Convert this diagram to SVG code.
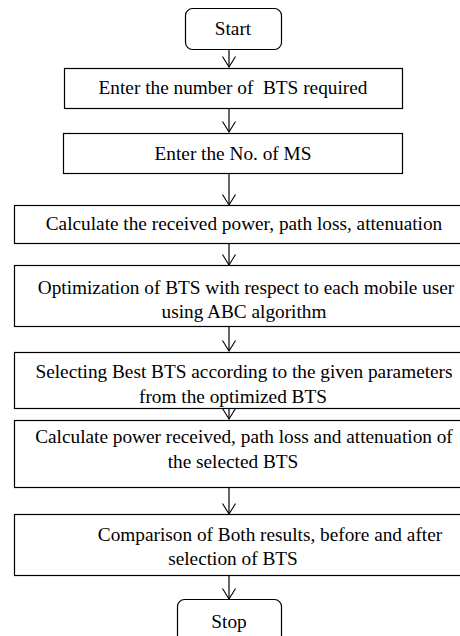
<svg xmlns="http://www.w3.org/2000/svg" width="460" height="636" viewBox="0 0 460 636">
<defs>
<marker id="arr" markerWidth="12" markerHeight="14" refX="11" refY="7" orient="auto" markerUnits="userSpaceOnUse" viewBox="0 0 12 14">
<path d="M0.5,0.5 L11,7 L0.5,13.5" fill="none" stroke="#000" stroke-width="1.1"/>
</marker>
<style>
.b{fill:#fff;stroke:#000;stroke-width:1.2}
.c{stroke:#000;stroke-width:1.2;fill:none}
</style>
</defs>
<rect width="460" height="636" fill="#fff"/>
<g id="connectors">
<line class="c" x1="229" y1="49" x2="229" y2="67" marker-end="url(#arr)"/>
<line class="c" x1="229" y1="108" x2="229" y2="132" marker-end="url(#arr)"/>
<line class="c" x1="229" y1="173" x2="229" y2="205" marker-end="url(#arr)"/>
<line class="c" x1="229" y1="243" x2="229" y2="265" marker-end="url(#arr)"/>
<line class="c" x1="229" y1="326" x2="229" y2="351" marker-end="url(#arr)"/>
<line class="c" x1="229" y1="408" x2="229" y2="419" marker-end="url(#arr)"/>
<line class="c" x1="229" y1="487" x2="229" y2="514" marker-end="url(#arr)"/>
<line class="c" x1="229" y1="575" x2="229" y2="599" marker-end="url(#arr)"/>
</g>
<g font-family="Liberation Serif, Times New Roman, serif" font-size="19.3" fill="#000" text-anchor="middle">
<g id="start">
<rect class="b" x="185.5" y="8.5" width="96" height="41" rx="7"/>
<text x="233" y="35">Start</text>
</g>
<g id="bts">
<rect class="b" x="64.5" y="68.5" width="338" height="40"/>
<text x="233" y="94" xml:space="preserve">Enter the number of  BTS required</text>
</g>
<g id="ms">
<rect class="b" x="63.5" y="133.5" width="339" height="40"/>
<text x="233" y="160">Enter the No. of MS</text>
</g>
<g id="calc1">
<rect class="b" x="14.5" y="205.5" width="460" height="38"/>
<text x="244" y="230">Calculate the received power, path loss, attenuation</text>
</g>
<g id="opt">
<rect class="b" x="14.5" y="265.5" width="460" height="61"/>
<text x="246" y="294">Optimization of BTS with respect to each mobile user</text>
<text x="244" y="318">using ABC algorithm</text>
</g>
<g id="select">
<rect class="b" x="14.5" y="352.5" width="460" height="56"/>
<text x="244" y="378">Selecting Best BTS according to the given parameters</text>
<text x="233" y="403">from the optimized BTS</text>
</g>
<g id="calc2">
<rect class="b" x="14.5" y="420.5" width="460" height="67"/>
<text x="244" y="443">Calculate power received, path loss and attenuation of</text>
<text x="233" y="468">the selected BTS</text>
</g>
<g id="compare">
<rect class="b" x="14.5" y="514.5" width="460" height="61"/>
<text x="270" y="541">Comparison of Both results, before and after</text>
<text x="233" y="565">selection of BTS</text>
</g>
<g id="stop">
<rect class="b" x="177.5" y="599.5" width="104" height="50" rx="7"/>
<text x="229" y="628">Stop</text>
</g>
</g>
</svg>
